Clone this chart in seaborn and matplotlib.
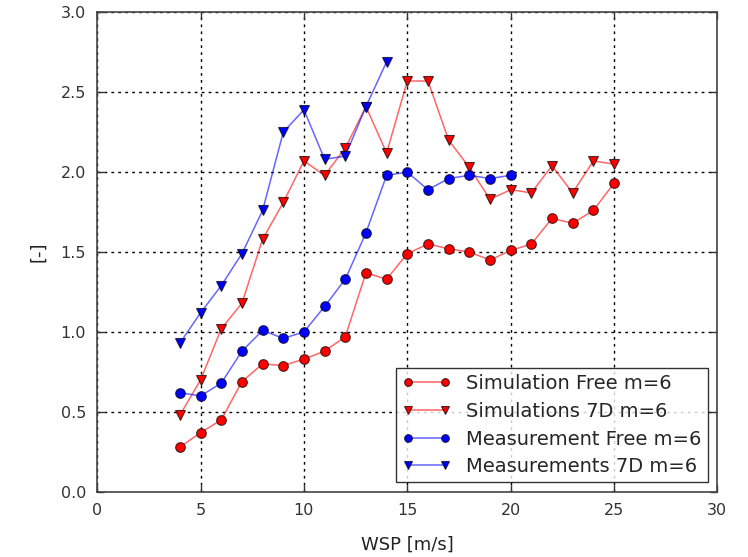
import matplotlib
matplotlib.use("Agg")
import matplotlib.pyplot as plt
import seaborn as sns
import numpy as np

# ---- data ----
wsp_sim = [4, 5, 6, 7, 8, 9, 10, 11, 12, 13, 14, 15, 16, 17, 18, 19, 20, 21, 22, 23, 24, 25]
sim_free = [0.28, 0.37, 0.45, 0.69, 0.80, 0.79, 0.83, 0.88, 0.97, 1.37, 1.33, 1.49,
            1.55, 1.52, 1.50, 1.45, 1.51, 1.55, 1.71, 1.68, 1.76, 1.93]
sim_7d = [0.48, 0.70, 1.02, 1.18, 1.58, 1.81, 2.07, 1.98, 2.15, 2.41, 2.12, 2.57,
          2.57, 2.20, 2.03, 1.83, 1.89, 1.87, 2.04, 1.87, 2.07, 2.05]
wsp_meas_free = [4, 5, 6, 7, 8, 9, 10, 11, 12, 13, 14, 15, 16, 17, 18, 19, 20]
meas_free = [0.62, 0.60, 0.68, 0.88, 1.01, 0.96, 1.00, 1.16, 1.33, 1.62, 1.98, 2.00,
             1.89, 1.96, 1.98, 1.96, 1.98]
wsp_meas_7d = [4, 5, 6, 7, 8, 9, 10, 11, 12, 13, 14]
meas_7d = [0.93, 1.12, 1.29, 1.49, 1.76, 2.25, 2.39, 2.08, 2.10, 2.41, 2.69]

labels = ["Simulation Free m=6", "Simulations 7D m=6",
          "Measurement Free m=6", "Measurements 7D m=6"]
xticks = [0, 5, 10, 15, 20, 25, 30]
yticks = [0.0, 0.5, 1.0, 1.5, 2.0, 2.5, 3.0]

sns.set_style("white")
plt.rcParams['font.family'] = ['DejaVu Sans']

fig = plt.figure(figsize=(7.48, 5.57), dpi=100)
ax = fig.add_axes([0.130, 0.117, 0.829, 0.861])

series = [
    (wsp_sim, sim_free, "o", (1, 0, 0), labels[0]),
    (wsp_sim, sim_7d, "v", (1, 0, 0), labels[1]),
    (wsp_meas_free, meas_free, "o", (0, 0, 1), labels[2]),
    (wsp_meas_7d, meas_7d, "v", (0, 0, 1), labels[3]),
]
for xs, ys, mk, col, lab in series:
    sns.lineplot(x=xs, y=ys, ax=ax, marker=mk, color=(*col, 0.6), lw=1.1,
                 markerfacecolor=col, markeredgecolor=(0, 0, 0, 0.7),
                 markeredgewidth=0.8, markersize=7, label=lab)

ax.set_xlim(0, 30)
ax.set_ylim(0, 3.0)
ax.set_xticks(xticks)
ax.set_yticks(yticks)
ax.set_yticklabels([f"{v:.1f}" for v in yticks])
ax.grid(True, linestyle=(0, (2, 3)), color="black", linewidth=1.0)
for s in ax.spines.values():
    s.set_visible(True)
    s.set_color("#444444")
    s.set_linewidth(1.2)
ax.tick_params(direction="in", length=5, width=1, top=True, right=True,
               bottom=True, left=True, labelsize=11.5, colors="#333333", pad=8)
ax.set_xlabel("WSP [m/s]", fontsize=13, color="#222222", labelpad=13)
ax.set_ylabel("[-]", fontsize=13, color="#222222", labelpad=10)

leg = ax.legend(loc="lower right", numpoints=2, fontsize=14, frameon=True,
                fancybox=False, edgecolor="black", borderpad=0.3,
                handlelength=2.5, labelspacing=0.45, markerscale=0.8,
                borderaxespad=0.5)
leg.get_frame().set_linewidth(1.0)

fig.savefig("out.png", dpi=100)
